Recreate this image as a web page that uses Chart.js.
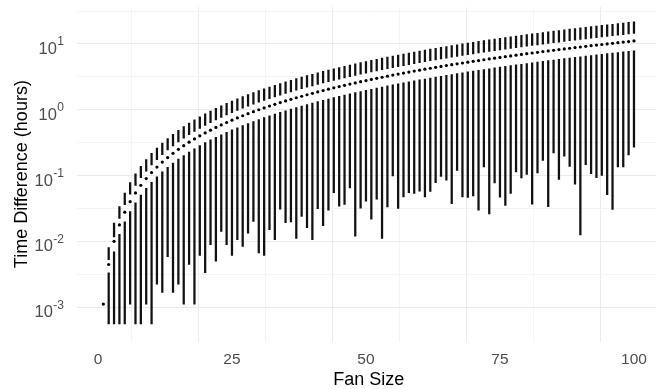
<!DOCTYPE html>
<html>
<head>
<meta charset="utf-8">
<script src="https://cdn.jsdelivr.net/npm/chart.js@4.4.0/dist/chart.umd.min.js"></script>
<style>
  html, body { margin: 0; padding: 0; background: #fff; overflow: hidden; }
  #wrap { width: 668px; height: 389px; }
</style>
</head>
<body>
<div id="wrap"><canvas id="chart" width="668" height="389"></canvas></div>
<script>
// values, in seconds (axis shows hours)
const fanSize = [1,2,3,4,5,6,7,8,9,10,11,12,13,14,15,16,17,18,19,20,
  21,22,23,24,25,26,27,28,29,30,31,32,33,34,35,36,37,38,39,40,
  41,42,43,44,45,46,47,48,49,50,51,52,53,54,55,56,57,58,59,60,
  61,62,63,64,65,66,67,68,69,70,71,72,73,74,75,76,77,78,79,80,
  81,82,83,84,85,86,87,88,89,90,91,92,93,94,95,96,97,98,99,100];

const minSec = [4,2,2,2,2,4,2,2,4,2,
  8,6,21,6,8,4,16,4,22,12,
  32,18,51,32,22,38,30,48,72,24,
  22,54,38,111,69,71,40,86,58,38,
  113,62,107,197,123,131,234,43,115,147,
  78,157,40,120,355,114,171,197,192,208,
  171,206,281,350,305,135,431,171,167,177,
  107,485,94,278,169,127,192,408,332,375,
  132,394,610,121,797,315,711,495,265,45,
  526,385,335,362,185,110,485,485,744,972];

const q1Sec = [4,12,25,46,71,102,139,182,230,284,
  344,409,480,557,639,727,821,920,1025,1136,
  1252,1375,1502,1636,1775,1920,2070,2227,2388,2556,
  2729,2908,3093,3283,3479,3681,3888,4101,4320,4544,
  4774,5010,5251,5498,5751,6009,6274,6543,6819,7100,
  7387,7679,7978,8281,8591,8906,9227,9554,9886,10224,
  10568,10917,11272,11633,11999,12371,12749,13132,13521,13916,
  14316,14723,15134,15552,15975,16404,16838,17279,17724,18176,
  18633,19096,19565,20039,20519,21005,21496,21993,22496,23004,
  23518,24038,24563,25094,25631,26173,26722,27275,27835,28400];

const medianSec = [4,16,36,64,100,144,196,256,324,400,
  484,576,676,784,900,1024,1156,1296,1444,1600,
  1764,1936,2116,2304,2500,2704,2916,3136,3364,3600,
  3844,4096,4356,4624,4900,5184,5476,5776,6084,6400,
  6724,7056,7396,7744,8100,8464,8836,9216,9604,10000,
  10404,10816,11236,11664,12100,12544,12996,13456,13924,14400,
  14884,15376,15876,16384,16900,17424,17956,18496,19044,19600,
  20164,20736,21316,21904,22500,23104,23716,24336,24964,25600,
  26244,26896,27556,28224,28900,29584,30276,30976,31684,32400,
  33124,33856,34596,35344,36100,36864,37636,38416,39204,40000];

const q3Sec = [4,19,42,80,130,187,255,333,421,520,
  629,749,879,1019,1170,1331,1503,1685,1877,2080,
  2293,2517,2751,2995,3250,3515,3791,4077,4373,4680,
  4997,5325,5663,6011,6370,6739,7119,7509,7909,8320,
  8741,9173,9615,10067,10530,11003,11487,11981,12485,13000,
  13525,14061,14607,15163,15730,16307,16895,17493,18101,18720,
  19349,19989,20639,21299,21970,22651,23343,24045,24757,25480,
  26213,26957,27711,28475,29250,30035,30831,31637,32453,33280,
  34117,34965,35823,36691,37570,38459,39359,40269,41189,42120,
  43061,44013,44975,45947,46930,47923,48927,49941,50965,52000];

const maxSec = [4,29,68,121,195,281,382,499,632,780,
  944,1123,1318,1529,1755,1997,2254,2527,2816,3120,
  3440,3775,4126,4493,4875,5273,5686,6115,6560,7020,
  7496,7987,8494,9017,9555,10109,10678,11263,11864,12480,
  13112,13759,14422,15101,15795,16505,17230,17971,18728,19500,
  20288,21091,21910,22745,23595,24461,25342,26239,27152,28080,
  29024,29983,30958,31949,32955,33977,35014,36067,37136,38220,
  39320,40435,41566,42713,43875,45053,46246,47455,48680,49920,
  51176,52447,53734,55037,56355,57689,59038,60403,61784,63180,
  64592,66019,67462,68921,70395,71885,73390,74911,76448,78000];

const xTicks = [0, 25, 50, 75, 100];
const yTickExps = [-3, -2, -1, 0, 1];

const FONT = '"Liberation Sans", Arial, sans-serif';
const toHours = (s) => s / 3600;

const lowSegs = [];
const highSegs = [];
const medians = [];
fanSize.forEach((f, i) => {
  if (q1Sec[i] > minSec[i]) lowSegs.push({ x: f, y: [toHours(minSec[i]), toHours(q1Sec[i])] });
  if (maxSec[i] > q3Sec[i]) highSegs.push({ x: f, y: [toHours(q3Sec[i]), toHours(maxSec[i])] });
  medians.push({ x: f, y: toHours(medianSec[i]) });
});

// grid positions: major + ggplot-style minor lines
const xGrid = [0, 12.5, 25, 37.5, 50, 62.5, 75, 87.5, 100];
const yGrid = [-3, -2.5, -2, -1.5, -1, -0.5, 0, 0.5, 1, 1.5];

const yLabels = {
  id: 'yLabels',
  afterDraw(chart) {
    const ctx = chart.ctx;
    const ys = chart.scales.y;
    const right = 64;
    ctx.save();
    ctx.fillStyle = '#4D4D4D';
    ctx.textBaseline = 'alphabetic';
    yTickExps.forEach(e => {
      const py = ys.getPixelForValue(Math.pow(10, e));
      const sup = String(e);
      ctx.font = '12px ' + FONT;
      const w = ctx.measureText(sup).width;
      ctx.textAlign = 'left';
      ctx.fillText(sup, right - w, py + 1.5);
      ctx.font = '16.5px ' + FONT;
      ctx.textAlign = 'right';
      ctx.fillText('10', right - w - 0.5, py + 10);
    });
    ctx.restore();
  }
};

new Chart(document.getElementById('chart'), {
  type: 'bar',
  data: {
    datasets: [
      {
        type: 'scatter',
        data: medians,
        pointRadius: 1.6,
        pointBackgroundColor: '#000',
        pointBorderWidth: 0,
        order: 0
      },
      {
        data: lowSegs,
        backgroundColor: '#111',
        barThickness: 1.6,
        grouped: false,
        borderWidth: 0,
        order: 1
      },
      {
        data: highSegs,
        backgroundColor: '#111',
        barThickness: 1.6,
        grouped: false,
        borderWidth: 0,
        order: 1
      }
    ]
  },
  options: {
    responsive: false,
    animation: false,
    layout: { padding: { top: 6.8, right: 7.5, left: 0, bottom: 0 } },
    plugins: { legend: { display: false }, tooltip: { enabled: false } },
    scales: {
      x: {
        type: 'linear',
        min: -3.95,
        max: 104.95,
        offset: false,
        afterBuildTicks: (s) => { s.ticks = xGrid.map(v => ({ value: v })); },
        afterFit: (s) => { s.height = 47.5; },
        ticks: {
          autoSkip: false,
          maxRotation: 0,
          padding: 9,
          color: '#4D4D4D',
          font: { family: FONT, size: 15.5 },
          callback: (v) => xTicks.includes(v) ? String(v) : ''
        },
        grid: {
          drawTicks: false,
          color: (c) => xTicks.includes(c.tick && c.tick.value) ? '#EBEBEB' : '#F4F4F4',
          lineWidth: 1
        },
        border: { display: false },
        title: {
          display: true,
          text: 'Fan Size',
          color: '#000',
          font: { family: FONT, size: 18, lineHeight: 1 },
          padding: { top: 0, bottom: 0 }
        }
      },
      y: {
        type: 'logarithmic',
        min: Math.pow(10, -3.485),
        max: Math.pow(10, 1.565),
        afterBuildTicks: (s) => { s.ticks = yGrid.map(v => ({ value: Math.pow(10, v) })); },
        afterFit: (s) => { s.width = 76.8; },
        ticks: { display: false },
        grid: {
          drawTicks: false,
          color: (c) => {
            const e = Math.log10(c.tick ? c.tick.value : 1);
            return Math.abs(e - Math.round(e)) < 0.01 ? '#EBEBEB' : '#F4F4F4';
          },
          lineWidth: 1
        },
        border: { display: false },
        title: {
          display: true,
          text: 'Time Difference (hours)',
          color: '#000',
          font: { family: FONT, size: 18, lineHeight: 1 },
          padding: { top: 13, bottom: 0 }
        }
      }
    }
  },
  plugins: [yLabels]
});
</script>
</body>
</html>
